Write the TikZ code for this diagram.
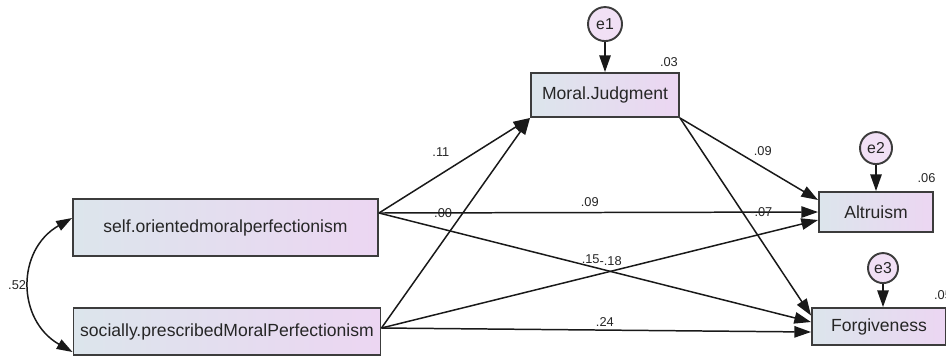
\documentclass[tikz,border=0pt]{standalone}
\usepackage{fontspec}
\setmainfont{Liberation Sans}
\usetikzlibrary{arrows.meta, positioning, calc}
\definecolor{semblue}{HTML}{DCE5EC}
\definecolor{sempink}{HTML}{ECD6F2}
\definecolor{semline}{HTML}{3C3C3C}
\definecolor{semtext}{HTML}{262626}

\begin{document}
\begin{tikzpicture}[
    obs/.style={rectangle, draw=semline, line width=1.1pt, left color=semblue, right color=sempink, inner sep=0pt, text=semtext, font=\fontsize{10}{12}\selectfont},
    err/.style={circle, draw=semline, line width=1.1pt, fill=sempink!75!white, inner sep=0pt, text=semtext, font=\fontsize{9}{10}\selectfont},
    reg/.style={-{Triangle[length=9.5pt, width=6.5pt]}, line width=0.85pt, draw=black!90},
    cov/.style={{Triangle[length=9pt, width=6pt]}-{Triangle[length=9pt, width=6pt]}, line width=0.85pt, draw=black!90},
    coef/.style={inner sep=1pt, text=semtext, font=\fontsize{7.3}{8}\selectfont}
]
\useasboundingbox (0,0) rectangle (18.92,-7.12);

% Nodes
\node[obs, minimum width=6.1cm, minimum height=1.14cm] (self) at (4.51,-4.55) {self.orientedmoralperfectionism};
\node[obs, minimum width=6.14cm, minimum height=0.94cm] (social) at (4.54,-6.63) {socially.prescribedMoralPerfectionism};
\node[obs, minimum width=2.96cm, minimum height=0.88cm] (mj) at (12.10,-1.90) {Moral.Judgment};
\node[obs, minimum width=2.28cm, minimum height=0.80cm] (alt) at (17.52,-4.24) {Altruism};
\node[obs, minimum width=2.68cm, minimum height=0.74cm] (forg) at (17.58,-6.53) {Forgiveness};

% Error terms
\node[err, minimum size=0.68cm, above=0.6cm of mj] (e1) {e1};
\node[err, minimum size=0.64cm, above=0.52cm of alt] (e2) {e2};
\node[err, minimum size=0.60cm, above=0.46cm of forg, xshift=0.08cm] (e3) {e3};

% Squared multiple correlations
\node[coef, above left=2pt and 0pt of mj.north east] (r2mj) {.03};
\node[coef, above left=3.5pt and -2pt of alt.north east] (r2alt) {.06};
\node[coef, above left=3pt and -4pt of forg.north east] (r2forg) {.05};

% Ports
\coordinate (selfout) at ($(self.east)+(0,0.29)$);
\coordinate (socout) at ($(social.east)+(0,0.07)$);
\coordinate (altin1) at ($(alt.west)+(0,0.24)$);
\coordinate (altin3) at ($(alt.west)+(0,-0.16)$);
\coordinate (forgin1) at ($(forg.west)+(0,0.22)$);
\coordinate (forgin2) at ($(forg.west)+(0,0.09)$);
\coordinate (forgin3) at ($(forg.west)+(0,-0.11)$);

% Arrows
\draw[reg] (e1) -- (mj);
\draw[reg] (e2) -- (alt);
\draw[reg] (e3) -- (e3 |- forg.north);

\draw[reg] (selfout) -- node[coef, pos=0.41, above=8.5pt] (c1) {.11} (mj.south west);
\draw[reg] (socout) -- node[coef, pos=0.545, left=4.5pt] (c2) {.00} (mj.south west);
\draw[reg] (selfout) -- node[coef, pos=0.48, above=2pt] (c3) {.09} (alt.west);
\draw[reg] (selfout) -- node[coef, pos=0.49, above] (c4) {.15} (forgin2);
\draw[reg] (socout) -- node[coef, pos=0.525, above=2pt] (c5) {-.18} (altin3);
\draw[reg] (socout) -- node[coef, pos=0.52, above=0.5pt] (c6) {.24} (forgin3);
\draw[reg] (mj.south east) -- node[coef, pos=0.6, above=5pt] (c7) {.09} (altin1);
\draw[reg] (mj.south east) -- node[coef, pos=0.477, right=3pt] (c8) {-.07} (forgin1);

\draw[cov] ($(self.west)+(0,0.19)$) .. controls +(-1.12,-0.64) and +(-1.12,0.64) .. node[coef, left=1pt] (c9) {.52} ($(social.west)+(0,-0.41)$);

\end{tikzpicture}
\end{document}
